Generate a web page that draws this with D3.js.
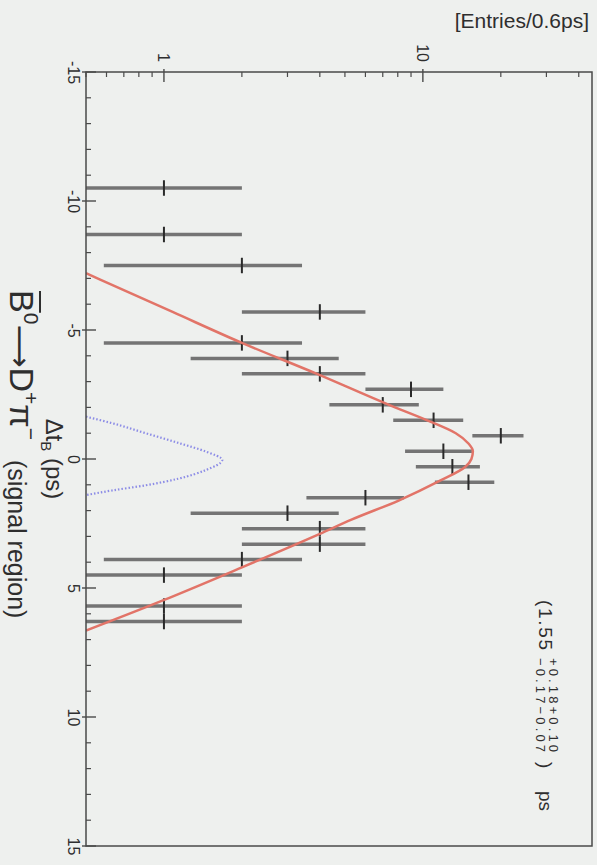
<!DOCTYPE html>
<html>
<head>
<meta charset="utf-8">
<script src="https://cdn.jsdelivr.net/npm/d3@7"></script>
<style>
  body { margin: 0; background: #eef0ee; }
  svg { display: block; font-family: "Liberation Sans", Arial, sans-serif; }
</style>
</head>
<body>
<script>
// 0.6 ps bins: centre of each filled bin and its entries
var binCenters = [-10.5, -8.7, -7.5, -5.7, -4.5, -3.9, -3.3, -2.7, -2.1, -1.5, -0.9, -0.3, 0.3, 0.9, 1.5, 2.1, 2.7, 3.3, 3.9, 4.5, 5.7, 6.3];
var binCounts  = [1, 1, 2, 4, 2, 3, 4, 9, 7, 11, 20, 12, 13, 15, 6, 3, 4, 4, 2, 1, 1, 1];
var binWidth = 0.6;

// fit curve (red)
var fitT = [-7.2, -5.7, -4.5, -3.3, -2.1, -1.5, -1.0, -0.6, -0.3, 0.0, 0.3, 0.85, 1.6, 2.35, 2.9, 4.2, 5.5, 6.65];
var fitN = [0.5, 1.08, 2.0, 3.9, 7.4, 10.4, 13.4, 15.0, 15.6, 15.4, 14.6, 11.6, 8.1, 5.3, 4.0, 2.0, 0.98, 0.5];

// background component (blue dotted)
var resT = [-1.64, -1.39, -1.0, -0.62, -0.29, 0.04, 0.43, 0.76, 1.02, 1.22, 1.40];
var resN = [0.5, 0.63, 0.85, 1.14, 1.45, 1.68, 1.45, 1.14, 0.85, 0.63, 0.5];

var dtTicks = [-15, -10, -5, 0, 5, 10, 15];
var nTicks = [1, 10];

// frame of the (rotated) plot on the page
var frame = {left: 86, top: 72, right: 592, bottom: 846};
var W = frame.bottom - frame.top,   // along dt
    H = frame.right - frame.left;   // along entries

var svg = d3.select("body").append("svg")
    .attr("width", 597)
    .attr("height", 865);

// the whole figure is turned a quarter turn clockwise
var g = svg.append("g")
    .attr("transform", "translate(" + frame.right + "," + frame.top + ") rotate(90)");

var x = d3.scaleLinear().domain([-15, 15]).range([0, W]);
var y = d3.scaleLog().domain([0.5, 45]).range([H, 0]);

g.append("clipPath").attr("id", "plotclip")
  .append("rect").attr("width", W).attr("height", H);

var plot = g.append("g").attr("clip-path", "url(#plotclip)");

// error bars
var bins = binCenters.map(function(t, i) { return {t: t, n: binCounts[i]}; });

plot.selectAll(".ebar")
    .data(bins)
  .enter().append("line")
    .attr("class", "ebar")
    .attr("x1", function(d) { return x(d.t); })
    .attr("x2", function(d) { return x(d.t); })
    .attr("y1", function(d) { return y(Math.max(d.n - Math.sqrt(d.n), 0.3)); })
    .attr("y2", function(d) { return y(d.n + Math.sqrt(d.n)); })
    .attr("stroke", "#747474")
    .attr("stroke-width", 3.5);

plot.selectAll(".wbar")
    .data(bins)
  .enter().append("line")
    .attr("class", "wbar")
    .attr("x1", function(d) { return x(d.t - binWidth / 2); })
    .attr("x2", function(d) { return x(d.t + binWidth / 2); })
    .attr("y1", function(d) { return y(d.n); })
    .attr("y2", function(d) { return y(d.n); })
    .attr("stroke", "#2a2a2a")
    .attr("stroke-width", 2);

// curves
var fitLine = d3.line()
    .x(function(d) { return x(d[0]); })
    .y(function(d) { return y(d[1]); })
    .curve(d3.curveMonotoneX);

plot.append("path")
    .datum(resT.map(function(t, i) { return [t, resN[i]]; }))
    .attr("d", fitLine)
    .attr("fill", "none")
    .attr("stroke", "#8c8ce6")
    .attr("stroke-width", 2.2)
    .attr("stroke-dasharray", "1.5,2");

plot.append("path")
    .datum(fitT.map(function(t, i) { return [t, fitN[i]]; }))
    .attr("d", fitLine)
    .attr("fill", "none")
    .attr("stroke", "#e27468")
    .attr("stroke-width", 2.5);

// frame
g.append("rect")
    .attr("width", W).attr("height", H)
    .attr("fill", "none")
    .attr("stroke", "#4a4a4a")
    .attr("stroke-width", 1.5);

// dt ticks
g.selectAll(".xminor")
    .data(d3.range(-14, 15, 1).filter(function(v) { return v % 5 !== 0; }))
  .enter().append("line")
    .attr("x1", function(d) { return x(d); }).attr("x2", function(d) { return x(d); })
    .attr("y1", H).attr("y2", H - 5)
    .attr("stroke", "#4a4a4a").attr("stroke-width", 1.2);

g.selectAll(".xmajor")
    .data(dtTicks)
  .enter().append("line")
    .attr("x1", function(d) { return x(d); }).attr("x2", function(d) { return x(d); })
    .attr("y1", H + 4).attr("y2", H - 10)
    .attr("stroke", "#4a4a4a").attr("stroke-width", 1.4);

// entries ticks
g.selectAll(".yminor")
    .data(y.ticks().filter(function(v) { return nTicks.indexOf(v) < 0; }))
  .enter().append("line")
    .attr("x1", 0).attr("x2", 5)
    .attr("y1", function(d) { return y(d); }).attr("y2", function(d) { return y(d); })
    .attr("stroke", "#4a4a4a").attr("stroke-width", 1.2);

g.selectAll(".ymajor")
    .data(nTicks)
  .enter().append("line")
    .attr("x1", -3).attr("x2", 10)
    .attr("y1", function(d) { return y(d); }).attr("y2", function(d) { return y(d); })
    .attr("stroke", "#4a4a4a").attr("stroke-width", 1.4);

// tick labels
var gx = g.append("g")
    .attr("transform", "translate(0," + H + ")")
    .call(d3.axisBottom(x).tickValues(dtTicks).tickSize(0).tickPadding(7)
      .tickFormat(function(d) { return String(d); }));
gx.select(".domain").remove();
gx.selectAll("text").attr("font-size", 16).attr("fill", "#2e2e2e")
    .attr("font-family", "Liberation Sans, Arial, sans-serif");

var gy = g.append("g")
    .call(d3.axisLeft(y).tickValues(nTicks).tickSize(0).tickPadding(10)
      .tickFormat(function(d) { return String(d); }));
gy.select(".domain").remove();
gy.selectAll("text").attr("font-size", 16).attr("fill", "#2e2e2e")
    .attr("font-family", "Liberation Sans, Arial, sans-serif");

// axis title
var xt = g.append("text")
    .attr("x", x(0)).attr("y", H + 40)
    .attr("text-anchor", "middle")
    .attr("font-size", 24).attr("fill", "#2e2e2e");
xt.append("tspan").text("\u0394t");
xt.append("tspan").attr("font-size", 15).attr("dy", 5).text("B");
xt.append("tspan").attr("dy", -5).text(" (ps)");

// decay title
var tt = g.append("text")
    .attr("x", 218).attr("y", H + 76)
    .attr("font-size", 34).attr("fill", "#2e2e2e");
var tB = tt.append("tspan").text("B");
tt.append("tspan").attr("font-size", 21).attr("dy", -14).text("0");
tt.append("tspan").attr("dy", 14).attr("font-family", "DejaVu Sans").attr("font-size", 30)
    .text("\u27f6");
tt.append("tspan").text("D");
tt.append("tspan").attr("font-size", 21).attr("dy", -14).text("+");
tt.append("tspan").attr("dy", 14).text("\u03c0");
tt.append("tspan").attr("font-size", 21).attr("dy", -14).text("\u2212");
var bLen = tB.node().getComputedTextLength();
g.append("line")
    .attr("x1", 219).attr("x2", 218 + bLen)
    .attr("y1", H + 46).attr("y2", H + 46)
    .attr("stroke", "#2e2e2e").attr("stroke-width", 2);

g.append("text")
    .attr("x", 388).attr("y", H + 78)
    .attr("font-size", 25).attr("fill", "#2e2e2e")
    .text("(signal region)");

// fit result
g.append("text").attr("x", 528).attr("y", 53)
    .attr("font-size", 19).attr("fill", "#2e2e2e")
    .attr("textLength", 50).attr("lengthAdjust", "spacing")
    .text("(1.55");
g.append("text").attr("x", 586).attr("y", 43)
    .attr("font-size", 13).attr("fill", "#2e2e2e")
    .attr("textLength", 94).attr("lengthAdjust", "spacing")
    .text("+0.18+0.10");
g.append("text").attr("x", 586).attr("y", 56)
    .attr("font-size", 13).attr("fill", "#2e2e2e")
    .attr("textLength", 94).attr("lengthAdjust", "spacing")
    .text("\u22120.17\u22120.07");
g.append("text").attr("x", 690).attr("y", 53)
    .attr("font-size", 19).attr("fill", "#2e2e2e")
    .text(")");
g.append("text").attr("x", 719).attr("y", 53)
    .attr("font-size", 19).attr("fill", "#2e2e2e")
    .text("ps");

// unit label, upright on the page
svg.append("text")
    .attr("x", 589).attr("y", 28)
    .attr("text-anchor", "end")
    .attr("font-size", 21).attr("fill", "#2e2e2e")
    .text("[Entries/0.6ps]");
</script>
</body>
</html>
